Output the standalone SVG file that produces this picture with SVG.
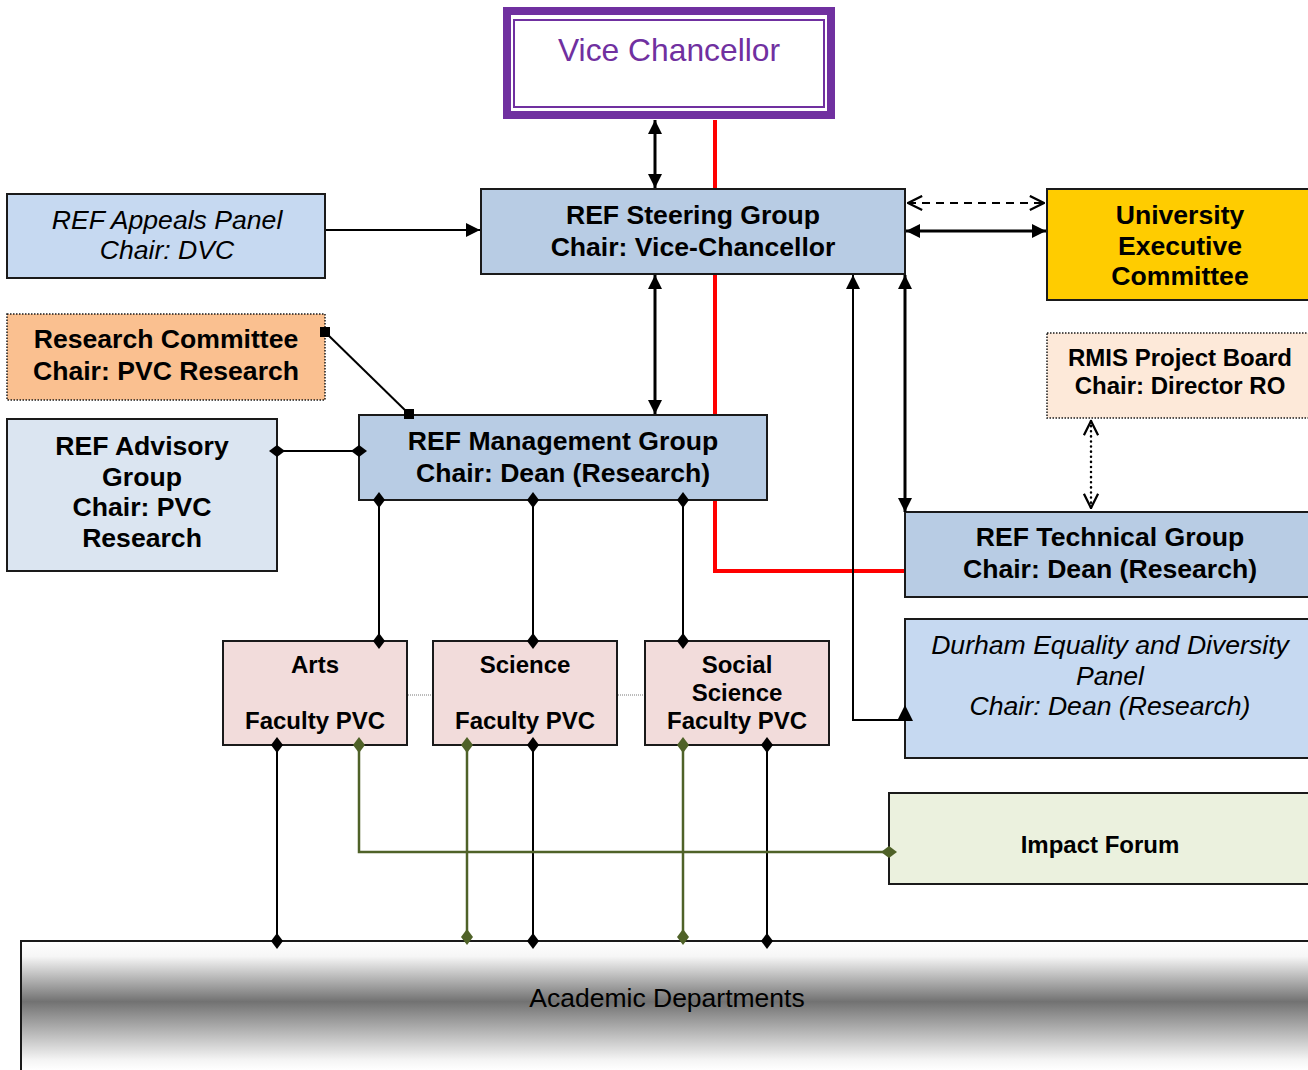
<svg xmlns="http://www.w3.org/2000/svg" width="1308" height="1070" viewBox="0 0 1308 1070">
<style>
.box{stroke:#1a1a1a;stroke-width:2}
.t{font-family:"Liberation Sans",Arial,sans-serif;font-size:26.6px;font-weight:bold;fill:#000;text-anchor:middle}
.s{font-size:24px}
.i{font-weight:normal;font-style:italic}
.ln{fill:none;stroke:#000;stroke-width:2}
.thick{fill:none;stroke:#000;stroke-width:3}
.green{fill:none;stroke:#4f6228;stroke-width:2.5}
</style>
<defs>
<marker id="arr" viewBox="0 0 10 10" refX="10" refY="5" markerWidth="14" markerHeight="14" orient="auto-start-reverse" markerUnits="userSpaceOnUse"><path d="M0,0 L10,5 L0,10 z" fill="#000"/></marker>
<marker id="open" viewBox="0 0 12 12" refX="11" refY="6" markerWidth="17" markerHeight="17" orient="auto-start-reverse" markerUnits="userSpaceOnUse"><path d="M1,1 L11,6 L1,11" fill="none" stroke="#000" stroke-width="1.6" stroke-dasharray="none"/></marker>
<marker id="dia" viewBox="0 0 16 12" refX="8" refY="6" markerWidth="16" markerHeight="12" orient="auto" markerUnits="userSpaceOnUse"><path d="M0,6 L8,0 L16,6 L8,12 z" fill="#000"/></marker>
<marker id="diag" viewBox="0 0 16 12" refX="8" refY="6" markerWidth="16" markerHeight="12" orient="auto" markerUnits="userSpaceOnUse"><path d="M0,6 L8,0 L16,6 L8,12 z" fill="#4f6228"/></marker>
<marker id="sq" viewBox="0 0 10 10" refX="5" refY="5" markerWidth="10" markerHeight="10" orient="0" markerUnits="userSpaceOnUse"><rect x="0" y="0" width="10" height="10" fill="#000"/></marker>
<linearGradient id="grad" gradientUnits="userSpaceOnUse" x1="0" y1="941" x2="0" y2="1070">
<stop offset="0" stop-color="#ffffff"/>
<stop offset="0.12" stop-color="#f6f6f6"/>
<stop offset="0.47" stop-color="#727272"/>
<stop offset="0.92" stop-color="#f4f4f4"/>
<stop offset="1" stop-color="#ffffff"/>
</linearGradient>
</defs>
<rect x="0" y="0" width="1308" height="1070" fill="#fff"/>

<g id="vice-chancellor">
<rect x="507" y="11" width="324" height="104" fill="#fff" stroke="#7030a0" stroke-width="8"/>
<rect x="514" y="20" width="310" height="87" fill="none" stroke="#7030a0" stroke-width="2"/>
<text x="669" y="61" class="t" style="font-weight:normal;font-size:31.8px;fill:#7030a0">Vice Chancellor</text>
</g>

<g id="ref-appeals-panel">
<rect class="box" x="7" y="194" width="318" height="84" fill="#c6d9f1"/>
<text class="t i" x="167" y="229">REF Appeals Panel</text>
<text class="t i" x="167" y="259">Chair: DVC</text>
</g>

<g id="ref-steering-group">
<rect class="box" x="481" y="189" width="424" height="85" fill="#b8cce4"/>
<text class="t" x="693" y="224">REF Steering Group</text>
<text class="t" x="693" y="256">Chair: Vice-Chancellor</text>
</g>

<g id="university-executive-committee">
<rect class="box" x="1047" y="189" width="270" height="111" fill="#ffcc00"/>
<text class="t" x="1180" y="224">University</text>
<text class="t" x="1180" y="255">Executive</text>
<text class="t" x="1180" y="285">Committee</text>
</g>

<g id="research-committee">
<rect x="7" y="314" width="318" height="86" fill="#fac090" stroke="#1a1a1a" stroke-width="1.5" stroke-dasharray="1.5,1.5"/>
<text class="t" x="166" y="348">Research Committee</text>
<text class="t" x="166" y="380">Chair: PVC Research</text>
</g>

<g id="rmis-project-board">
<rect x="1047" y="333" width="270" height="85" fill="#fde9d9" stroke="#1a1a1a" stroke-width="1.5" stroke-dasharray="1.5,1.5"/>
<text class="t s" x="1180" y="366">RMIS Project Board</text>
<text class="t s" x="1180" y="394">Chair: Director RO</text>
</g>

<g id="ref-advisory-group">
<rect class="box" x="7" y="419" width="270" height="152" fill="#dbe5f1"/>
<text class="t" x="142" y="455">REF Advisory</text>
<text class="t" x="142" y="486">Group</text>
<text class="t" x="142" y="516">Chair: PVC</text>
<text class="t" x="142" y="547">Research</text>
</g>

<g id="ref-management-group">
<rect class="box" x="359" y="415" width="408" height="85" fill="#b8cce4"/>
<text class="t" x="563" y="450">REF Management Group</text>
<text class="t" x="563" y="482">Chair: Dean (Research)</text>
</g>

<g id="ref-technical-group">
<rect class="box" x="905" y="512" width="412" height="85" fill="#b8cce4"/>
<text class="t" x="1110" y="546">REF Technical Group</text>
<text class="t" x="1110" y="578">Chair: Dean (Research)</text>
</g>

<g id="durham-equality-diversity-panel">
<rect class="box" x="905" y="619" width="412" height="139" fill="#c6d9f1"/>
<text class="t i" x="1110" y="654">Durham Equality and Diversity</text>
<text class="t i" x="1110" y="685">Panel</text>
<text class="t i" x="1110" y="715">Chair: Dean (Research)</text>
</g>

<g id="arts">
<rect class="box" x="223" y="641" width="184" height="104" fill="#f2dcdb"/>
<text class="t s" x="315" y="673">Arts</text>
<text class="t s" x="315" y="729">Faculty PVC</text>
</g>

<g id="science">
<rect class="box" x="433" y="641" width="184" height="104" fill="#f2dcdb"/>
<text class="t s" x="525" y="673">Science</text>
<text class="t s" x="525" y="729">Faculty PVC</text>
</g>

<g id="social-science">
<rect class="box" x="645" y="641" width="184" height="104" fill="#f2dcdb"/>
<text class="t s" x="737" y="673">Social</text>
<text class="t s" x="737" y="701">Science</text>
<text class="t s" x="737" y="729">Faculty PVC</text>
</g>

<g id="impact-forum">
<rect class="box" x="889" y="793" width="428" height="91" fill="#ebf1de"/>
<text class="t s" x="1100" y="853">Impact Forum</text>
</g>

<g id="academic-departments">
<rect x="21" y="941" width="1300" height="140" fill="url(#grad)" stroke="#1a1a1a" stroke-width="2"/>
<text class="t" x="667" y="1007" style="font-weight:normal;font-size:26.5px">Academic Departments</text>
</g>

<g id="connectors">
<path d="M715,120 V188 M715,275 V414 M715,501 V571 H904" fill="none" stroke="#ff0000" stroke-width="4"/>
<line class="thick" x1="655" y1="120" x2="655" y2="188" marker-start="url(#arr)" marker-end="url(#arr)"/>
<line class="ln" x1="326" y1="230" x2="480" y2="230" marker-end="url(#arr)"/>
<line class="thick" x1="655" y1="275" x2="655" y2="414" marker-start="url(#arr)" marker-end="url(#arr)"/>
<line class="thick" x1="906" y1="231" x2="1046" y2="231" marker-start="url(#arr)" marker-end="url(#arr)"/>
<line x1="908" y1="203" x2="1044" y2="203" stroke="#000" stroke-width="2" stroke-dasharray="8,6" marker-start="url(#open)" marker-end="url(#open)"/>
<line class="thick" x1="905" y1="275" x2="905" y2="512" marker-start="url(#arr)" marker-end="url(#arr)"/>
<polyline class="ln" points="905,720 853,720 853,275" marker-end="url(#arr)"/>
<polygon points="897,721 913,721 905,705" fill="#000"/>
<line x1="1091" y1="421" x2="1091" y2="508" stroke="#000" stroke-width="2.5" stroke-dasharray="0.1,5" stroke-linecap="round" marker-start="url(#open)" marker-end="url(#open)"/>
<line class="ln" x1="325" y1="332" x2="409" y2="414" marker-start="url(#sq)" marker-end="url(#sq)"/>
<line class="ln" x1="277" y1="451" x2="359" y2="451" marker-start="url(#dia)" marker-end="url(#dia)"/>
<line class="ln" x1="379" y1="500" x2="379" y2="641" marker-start="url(#dia)" marker-end="url(#dia)"/>
<line class="ln" x1="533" y1="500" x2="533" y2="641" marker-start="url(#dia)" marker-end="url(#dia)"/>
<line class="ln" x1="683" y1="500" x2="683" y2="641" marker-start="url(#dia)" marker-end="url(#dia)"/>
<line x1="408" y1="695" x2="432" y2="695" stroke="#777" stroke-width="1" stroke-dasharray="1,1"/>
<line x1="618" y1="695" x2="644" y2="695" stroke="#777" stroke-width="1" stroke-dasharray="1,1"/>
<line class="ln" x1="277" y1="745" x2="277" y2="941" marker-start="url(#dia)" marker-end="url(#dia)"/>
<line class="ln" x1="533" y1="745" x2="533" y2="941" marker-start="url(#dia)" marker-end="url(#dia)"/>
<line class="ln" x1="767" y1="745" x2="767" y2="941" marker-start="url(#dia)" marker-end="url(#dia)"/>
<polyline class="green" points="359,745 359,852 889,852" marker-start="url(#diag)" marker-end="url(#diag)"/>
<line class="green" x1="467" y1="745" x2="467" y2="937" marker-start="url(#diag)" marker-end="url(#diag)"/>
<line class="green" x1="683" y1="745" x2="683" y2="937" marker-start="url(#diag)" marker-end="url(#diag)"/>
</g>
</svg>
